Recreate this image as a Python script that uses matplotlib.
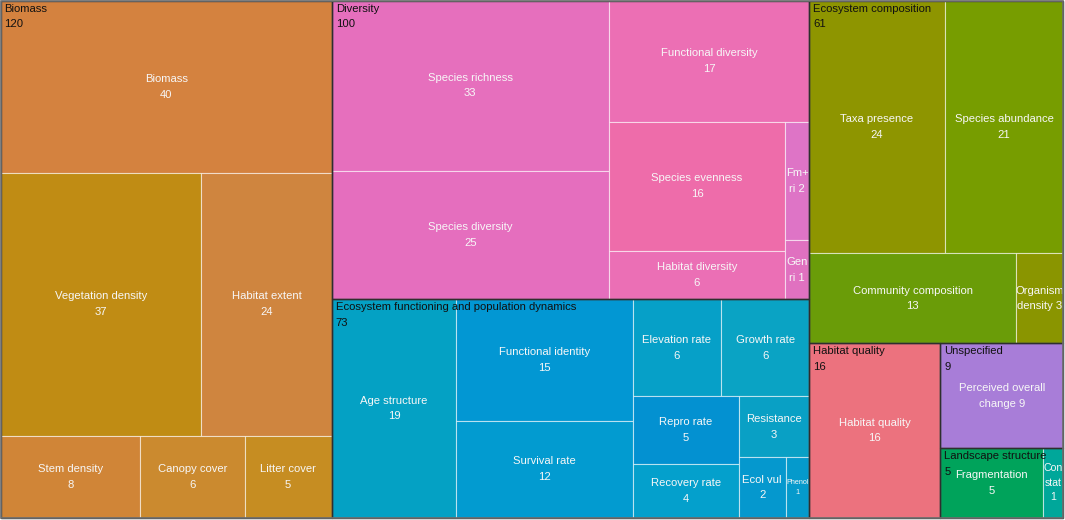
import matplotlib
matplotlib.use("Agg")
import matplotlib.pyplot as plt
from matplotlib.patches import Rectangle

# ---------------- data ----------------
groups = ["Biomass", "Diversity", "Ecosystem functioning and population dynamics",
          "Ecosystem composition", "Habitat quality", "Unspecified", "Landscape structure"]
# values shown in the group headers
group_labels = [120, 100, 73, 61, 16, 9, 5]

biomass_names = ["Biomass", "Vegetation density", "Habitat extent", "Stem density", "Canopy cover", "Litter cover"]
biomass_values = [40, 37, 24, 8, 6, 5]

diversity_names = ["Species richness", "Species diversity", "Functional diversity", "Species evenness",
                   "Habitat diversity", "Fm+ ri", "Gen ri"]
diversity_values = [33, 25, 17, 16, 6, 2, 1]

function_names = ["Age structure", "Functional identity", "Survival rate", "Elevation rate", "Growth rate",
                  "Repro rate", "Recovery rate", "Resistance", "Ecol vul", "Phenol"]
function_values = [19, 15, 12, 6, 6, 5, 4, 3, 2, 1]

composition_names = ["Taxa presence", "Species abundance", "Community composition", "Organism density"]
composition_values = [24, 21, 13, 3]

quality_names = ["Habitat quality"]
quality_values = [16]

unspecified_names = ["Perceived overall change"]
unspecified_values = [9]

landscape_names = ["Fragmentation", "Con stat"]
landscape_values = [5, 1]

children_names = [biomass_names, diversity_names, function_names, composition_names,
                  quality_names, unspecified_names, landscape_names]
children_values = [biomass_values, diversity_values, function_values, composition_values,
                   quality_values, unspecified_values, landscape_values]

# wrapped label text where the tile is too narrow
wrapped = {
    "Fm+ ri": "Fm+\nri {v}",
    "Gen ri": "Gen\nri {v}",
    "Organism density": "Organism\ndensity {v}",
    "Perceived overall change": "Perceived overall\nchange {v}",
    "Con stat": "Con\nstat\n{v}",
    "Phenol": "Phenol\n{v}",
}
small_labels = {"Phenol"}
tight_labels = {"Con stat"}

child_colors = [
    ["#D4823F", "#C08C14", "#CF853F", "#D08537", "#CB8A2F", "#C68D22"],
    ["#E66FBD", "#E56EBE", "#EC6FB4", "#EE6CAA", "#EB6FB5", "#DE74C6", "#E071C0"],
    ["#04A1C4", "#0297D3", "#029BD0", "#06A0C8", "#0AA3C4", "#0391D1", "#04A0CC", "#09A0C5", "#0598CE", "#059ACC"],
    ["#8E9500", "#779D00", "#6A9C08", "#8A9500"],
    ["#EC727E"],
    ["#A87DD8"],
    ["#00A35B", "#00A79A"],
]


def pivot_layout(values, x0, y0, x1, y1):
    """Ordered 'pivot by size' treemap layout (values sorted descending)."""
    n = len(values)
    if n == 0:
        return []
    if n == 1:
        return [(x0, y0, x1, y1)]
    total = float(sum(values))
    w, h = x1 - x0, y1 - y0
    p = values[0]
    best_k, best_r = 0, float("inf")
    for k in range(0, n):
        s = p + sum(values[1:1 + k])
        if w >= h:
            a, b = w * s / total, h * p / s
        else:
            a, b = h * s / total, w * p / s
        r = max(a / b, b / a)
        if r < best_r:
            best_r, best_k = r, k
    r2 = values[1:1 + best_k]
    r3 = values[1 + best_k:]
    s = p + sum(r2)
    rects = []
    if w >= h:
        cx1 = x0 + w * s / total
        py1 = y0 + h * p / s
        rects.append((x0, y0, cx1, py1))
        rects += pivot_layout(r2, x0, py1, cx1, y1)
        rects += pivot_layout(r3, cx1, y0, x1, y1)
    else:
        ry1 = y0 + h * s / total
        px1 = x0 + w * p / s
        rects.append((x0, y0, px1, ry1))
        rects += pivot_layout(r2, px1, y0, x1, ry1)
        rects += pivot_layout(r3, x0, ry1, x1, y1)
    return rects


W, H = 1065, 520
fig = plt.figure(figsize=(W / 100, H / 100), dpi=100)
ax = fig.add_axes([0, 0, 1, 1])
ax.set_xlim(0, W)
ax.set_ylim(H, 0)
ax.axis("off")

FONT = "Liberation Sans"
FS = 8.1
LS = 1.72

X0, Y0, X1, Y1 = 0.5, 0.5, 1063.3, 517.7
group_sizes = [sum(v) for v in children_values]
group_rects = pivot_layout(group_sizes, X0, Y0, X1, Y1)

for gi in range(len(groups)):
    gx0, gy0, gx1, gy1 = group_rects[gi]
    crects = pivot_layout(children_values[gi], gx0, gy0, gx1, gy1)
    for ci, (cname, cval) in enumerate(zip(children_names[gi], children_values[gi])):
        cx0, cy0, cx1, cy1 = crects[ci]
        ax.add_patch(Rectangle((cx0, cy0), cx1 - cx0, cy1 - cy0,
                               facecolor=child_colors[gi][ci],
                               edgecolor=(1, 1, 1, 0.55), linewidth=0.8, zorder=1))
        if cname in wrapped:
            txt = wrapped[cname].format(v=cval)
        else:
            txt = f"{cname}\n{cval}"
        if cname in small_labels:
            fs, ls = 5.2, 1.5
        elif cname in tight_labels:
            fs, ls = 7.6, 1.55
        else:
            fs, ls = FS, LS
        ax.text((cx0 + cx1) / 2, (cy0 + cy1) / 2, txt, ha="center", va="center",
                color="#F7F7F7", fontsize=fs, family=FONT, linespacing=ls, zorder=3)

for gi, (gname, glab) in enumerate(zip(groups, group_labels)):
    gx0, gy0, gx1, gy1 = group_rects[gi]
    ax.add_patch(Rectangle((gx0, gy0), gx1 - gx0, gy1 - gy0, facecolor="none",
                           edgecolor="#2E2E2E", linewidth=1.0, zorder=4))
    ax.text(gx0 + 4, gy0 + 3, f"{gname}\n{glab}", ha="left", va="top",
            color="#111111", fontsize=FS, family=FONT, linespacing=LS, zorder=5)

ax.add_patch(Rectangle((X0, Y0), X1 - X0, Y1 - Y0, facecolor="none",
                       edgecolor="#6E6E6E", linewidth=1.2, zorder=6))

fig.savefig("out.png", dpi=100)
